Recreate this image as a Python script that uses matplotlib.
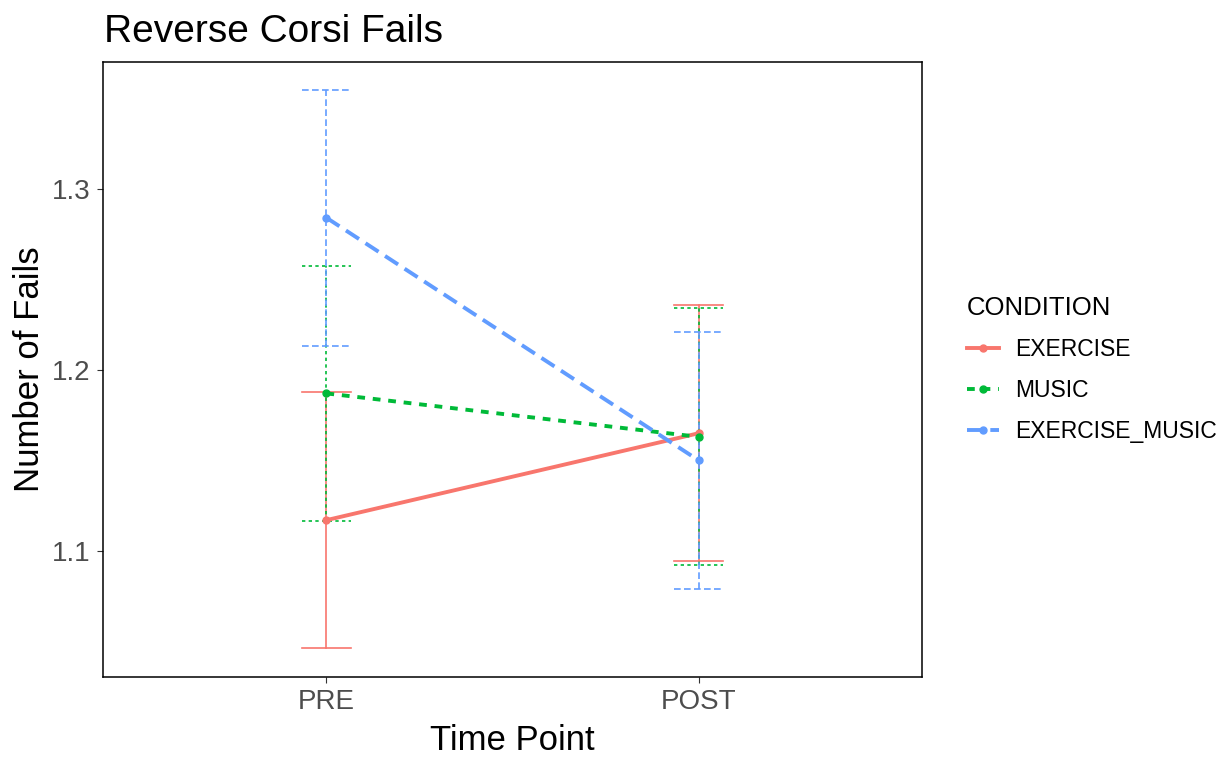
import matplotlib.pyplot as plt
from matplotlib.lines import Line2D

plt.rcParams['font.family'] = ['Liberation Sans', 'DejaVu Sans']

# Mean number of fails and error bar half-widths per condition
time_points = ['PRE', 'POST']
conditions = ['EXERCISE', 'MUSIC', 'EXERCISE_MUSIC']
means = {
    'EXERCISE': [1.117, 1.165],
    'MUSIC': [1.187, 1.163],
    'EXERCISE_MUSIC': [1.284, 1.150],
}
errors = {
    'EXERCISE': [0.0705, 0.0708],
    'MUSIC': [0.0705, 0.0709],
    'EXERCISE_MUSIC': [0.0707, 0.0708],
}

colors = {'EXERCISE': '#F8766D', 'MUSIC': '#00BA38', 'EXERCISE_MUSIC': '#619CFF'}
dashes = {'EXERCISE': None, 'MUSIC': (2, 2), 'EXERCISE_MUSIC': (4, 2)}

fig = plt.figure(figsize=(12.31, 7.58), dpi=100)
ax = fig.add_axes([0.0837, 0.1069, 0.6653, 0.8113])

x = list(range(len(time_points)))
cap = 0.066

# error bars first, then the mean lines and points on top
for cond in conditions:
    c = colors[cond]
    d = dashes[cond]
    for xi, m, e in zip(x, means[cond], errors[cond]):
        segs = [([xi, xi], [m - e, m + e]),
                ([xi - cap, xi + cap], [m + e, m + e]),
                ([xi - cap, xi + cap], [m - e, m - e])]
        for sx, sy in segs:
            ln, = ax.plot(sx, sy, color=c, lw=1.2, zorder=2)
            if d:
                ln.set_dashes(d)

for cond in conditions:
    c = colors[cond]
    ln, = ax.plot(x, means[cond], color=c, lw=2.8, zorder=3)
    if dashes[cond]:
        ln.set_dashes(dashes[cond])
    ax.plot(x, means[cond], 'o', color=c, ms=5, zorder=4)

ax.set_xlim(-0.6, 1.6)
ax.set_ylim(1.0304, 1.370)
ax.set_xticks(x)
ax.set_xticklabels(time_points)
ax.set_yticks([1.1, 1.2, 1.3])
ax.set_yticklabels(['1.1', '1.2', '1.3'])
ax.tick_params(colors='#333333', labelcolor='#4D4D4D', labelsize=20, length=4,
               width=0.8, pad=5)

for sp in ax.spines.values():
    sp.set_color('black')
    sp.set_linewidth(1.1)

ax.set_xlabel('Time Point', fontsize=25, labelpad=6)
ax.set_ylabel('Number of Fails', fontsize=25, labelpad=4)
fig.text(0.0845, 1 - 42 / 758, 'Reverse Corsi Fails', fontsize=28,
         ha='left', va='baseline')

handles = []
for cond in conditions:
    h = Line2D([0], [0], color=colors[cond], lw=2.8, marker='o', ms=5)
    if dashes[cond]:
        h.set_dashes(dashes[cond])
    handles.append(h)
leg = ax.legend(handles, conditions, title='CONDITION', frameon=False,
                loc='center left', bbox_to_anchor=(1.03, 0.50), fontsize=16.5,
                title_fontsize=18.5, handlelength=1.4, labelspacing=0.78,
                handletextpad=0.7)
leg._legend_box.align = 'left'

fig.savefig('out.png', dpi=100)
